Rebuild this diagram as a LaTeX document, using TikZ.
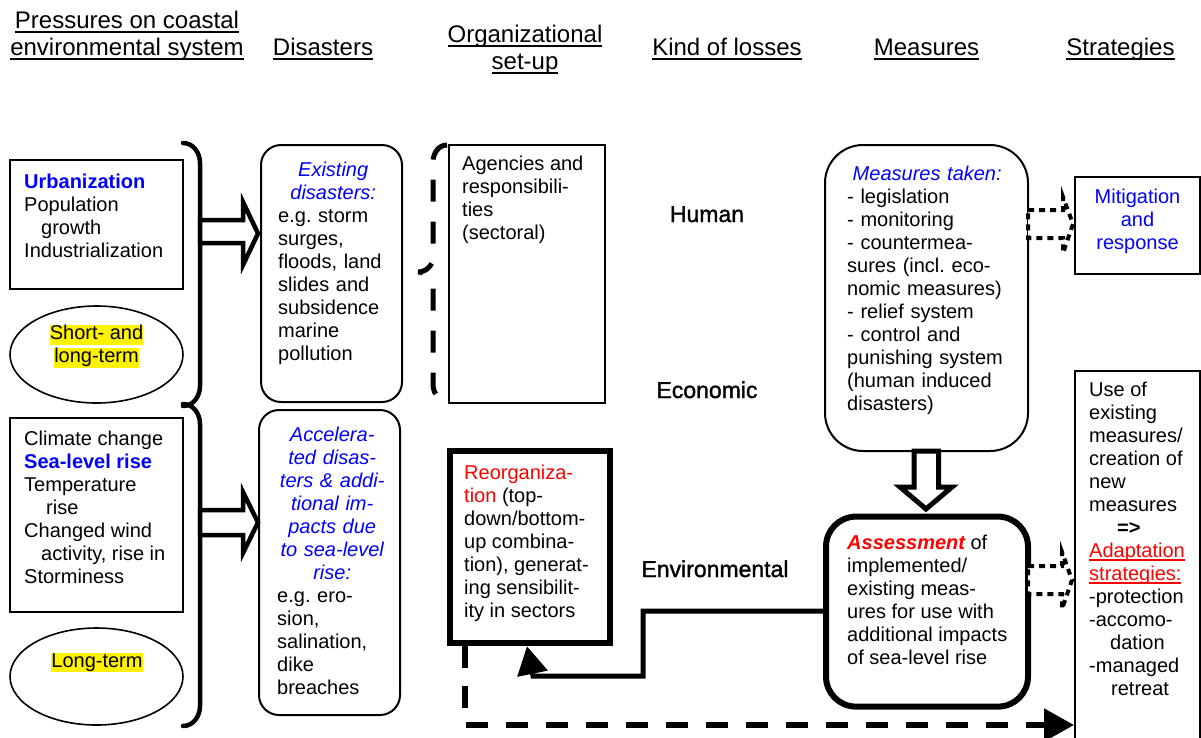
\documentclass[tikz,border=0pt]{standalone}
\usepackage{fontspec}
\setmainfont{Liberation Sans}
\newfontfamily\hdrfont{Liberation Sans}
\newfontfamily\lossfont[FakeBold=1.5]{Liberation Sans}
\usetikzlibrary{shapes.geometric,arrows.meta,calc}
\setlength{\parindent}{0pt}
\frenchspacing
\newsavebox\ulbox
\newcommand\ulx[1]{\sbox\ulbox{#1}\rlap{\rule[-4.5pt]{\wd\ulbox}{1.6pt}}\usebox\ulbox}
\newcommand\ulr[1]{\sbox\ulbox{#1}\rlap{\color{red}\rule[-3.5pt]{\wd\ulbox}{1.4pt}}\usebox\ulbox}
\newcommand\hly[1]{{\setlength\fboxsep{0pt}\colorbox{yellow}{\rule[-5pt]{0pt}{18pt}#1}}}
\newcommand\bodyf{\fontsize{20}{23}\selectfont\frenchspacing}
\newcommand\hdrf{\hdrfont\fontsize{24}{27}\selectfont}
\newcommand\lossf{\lossfont\fontsize{23}{26}\selectfont}
\begin{document}
\begin{tikzpicture}[x=1pt,y=-1pt,
  thinbox/.style={draw, line width=2pt, inner sep=0pt},
  thickbox/.style={draw, line width=6pt, inner sep=0pt},
  ellbox/.style={draw, ellipse, line width=1.6pt, inner sep=0pt},
  hdr/.style={font=\hdrf, align=center, inner sep=0pt},
  txt/.style={font=\bodyf, inner sep=0pt, align=left, anchor=north west},
  lossl/.style={font=\lossf, inner sep=0pt, anchor=base},
  brace/.style={line width=4.5pt, line cap=round},
  blockarrow/.style={draw, fill=white, line width=4.5pt, line join=miter},
  dotarrow/.style={draw, fill=white, line width=4pt, dash pattern=on 6pt off 5pt},
  solidconn/.style={line width=5pt, -{Triangle[length=28pt,width=30pt]}},
  dashconn/.style={line width=5.5pt, dash pattern=on 22pt off 18pt, -{Triangle[length=30pt,width=32pt]}}]
\useasboundingbox (0,0) rectangle (1201,737);

% headers
\node[hdr, anchor=north] (h1) at (127,9.1) {\strut\ulx{Pressures on coastal}\\\ulx{environmental system}};
\node[hdr, anchor=base] (h2) at (323,55) {\ulx{Disasters}};
\node[hdr, anchor=north] (h3) at (525,23.1) {\strut\ulx{Organizational}\\\ulx{set-up}};
\node[hdr, anchor=base] (h4) at (727,55) {\ulx{Kind of losses}};
\node[hdr, anchor=base] (h5) at (926.5,55) {\ulx{Measures}};
\node[hdr, anchor=base] (h6) at (1120.5,55) {\ulx{Strategies}};

% boxes
\node[thinbox, minimum width=173pt, minimum height=129pt] (urb) at (96.5,224.5) {};
\node[ellbox, minimum width=173pt, minimum height=97pt] (shortterm) at (96.5,354.5) {};
\node[thinbox, minimum width=173pt, minimum height=194pt] (clim) at (96.5,515) {};
\node[ellbox, minimum width=173pt, minimum height=97pt] (longterm) at (96.5,676.5) {};
\node[thinbox, rounded corners=20pt, minimum width=141pt, minimum height=257pt] (exist) at (331.5,273.5) {};
\node[thinbox, rounded corners=20pt, minimum width=141pt, minimum height=305pt] (accel) at (329.5,562.5) {};
\node[thinbox, minimum width=156pt, minimum height=258pt] (agency) at (527,274) {};
\node[thickbox, minimum width=160.5pt, minimum height=192.5pt] (reorg) at (530,547) {};
\node[thinbox, rounded corners=38pt, minimum width=203pt, minimum height=306pt] (meas) at (926.5,298) {};
\node[thickbox, rounded corners=30pt, minimum width=202pt, minimum height=190pt] (assess) at (927,611.6) {};
\node[thinbox, minimum width=125pt, minimum height=97pt] (mitig) at (1137.5,225.5) {};
\node[thinbox, minimum width=125pt, minimum height=389pt] (strat) at (1137.5,565.5) {};

% texts
\node[txt] (urbt) at (24,171.9) {\strut\textcolor{blue}{\bfseries Urbanization}\\Population\\\hspace*{17pt}growth\\Industrialization};
\node[font=\bodyf, inner sep=0pt, align=center, anchor=north] (shortt) at (96.5,325) {\hly{Short- and}\\\hly{long-term}};
\node[txt] (climt) at (24,428.9) {\strut Climate change\\\textcolor{blue}{\bfseries Sea-level rise}\\Temperature\\\hspace*{22pt}rise\\Changed wind\\\hspace*{17pt}activity, rise in\\Storminess};
\node[font=\bodyf, inner sep=0pt, anchor=base] (longt) at (97,667) {\hly{Long-term}};
\node[txt, text width=110pt] (existt) at (278,159.9) {{\centering\color{blue}\itshape\strut Existing\\disasters:\par}e.g. storm\\surges,\\floods, land\\slides and\\subsidence\\marine\\pollution};
\node[txt, text width=110pt] (accelt) at (277,424.9) {{\centering\color{blue}\itshape\strut Accelera-\\ted disas-\\ters \& addi-\\tional im-\\pacts due\\to sea-level\\rise:\par}e.g. ero-\\sion,\\salination,\\dike\\breaches};
\node[txt] (agencyt) at (462,153.9) {\strut Agencies and\\responsibili-\\ties\\(sectoral)};
\node[txt] (reorgt) at (464,462.9) {\strut\textcolor{red}{Reorganiza-}\\\textcolor{red}{tion} (top-\\down/bottom-\\up combina-\\tion), generat-\\ing sensibilit-\\ity in sectors};
\node[txt, text width=160pt] (meast) at (847,163.9) {{\centering\color{blue}\itshape\strut Measures taken:\par}- legislation\\- monitoring\\- countermea-\\sures (incl. eco-\\nomic measures)\\- relief system\\- control and\\punishing system\\(human induced\\disasters)};
\node[txt] (assesst) at (847,532.9) {\strut\textcolor{red}{\bfseries\itshape Assessment} of\\implemented/\\existing meas-\\ures for use with\\additional impacts\\of sea-level rise};
\node[font=\bodyf, inner sep=0pt, align=center, anchor=north, text=blue] (mitigt) at (1137.5,186.9) {\strut Mitigation\\and\\response};
\node[txt] (stratt) at (1089,379.9) {\strut Use of\\existing\\measures/\\creation of\\new\\measures\\\hspace*{28pt}\textbf{=>}\\\textcolor{red}{\ulr{Adaptation}}\\\textcolor{red}{\ulr{strategies:}}\\-protection\\-accomo-\\\hspace*{21pt}dation\\-managed\\\hspace*{22pt}retreat};

% kinds of losses
\node[lossl] (human) at (707,222) {Human};
\node[lossl] (econ) at (707,398) {Economic};
\node[lossl] (env) at (715,577) {Environmental};

% braces
\draw[brace] (183,143) to[out=0,in=90] (200,163) -- (200,386) to[out=-90,in=0] (183,406);
\draw[brace] (183,404) to[out=0,in=90] (200,424) -- (200,706) to[out=-90,in=0] (183,726);
\draw[line width=5pt, dash pattern=on 22pt off 20pt] (447,145) to[out=180,in=90] (433,162) -- (433,257) to[out=-90,in=0] (418,272) to[out=0,in=90] (433,287) -- (433,383) to[out=-90,in=180] (440,396);

% block arrows
\draw[blockarrow] (200,220) -- (243,220) -- (243,202) -- (258,233.5) -- (243,265) -- (243,243) -- (200,243) -- cycle;
\draw[blockarrow] (200,510) -- (243,510) -- (243,492) -- (258,522.5) -- (243,553) -- (243,535) -- (200,535) -- cycle;
\draw[blockarrow, line width=5pt] (914,451) -- (914,487) -- (900,487) -- (926,509) -- (952,487) -- (938.5,487) -- (938.5,451) -- cycle;

% dotted arrows
\draw[dotarrow] (1028,210) -- (1063,210) -- (1063,197) -- (1073,224) -- (1063,253) -- (1063,238) -- (1028,238) -- cycle;
\draw[dotarrow] (1028,566) -- (1062,566) -- (1062,552) -- (1072,580) -- (1062,609) -- (1062,594) -- (1028,594) -- cycle;

% connectors
\draw[solidconn] (assess.west |- 0,611) -- (643,611) -- (643,676) -- (533,676) -- ([xshift=-3pt]reorg.south);
\draw[dashconn] (465,0 |- reorg.south) -- (465,725) -- (strat.west |- 0,725);
\end{tikzpicture}
\end{document}
